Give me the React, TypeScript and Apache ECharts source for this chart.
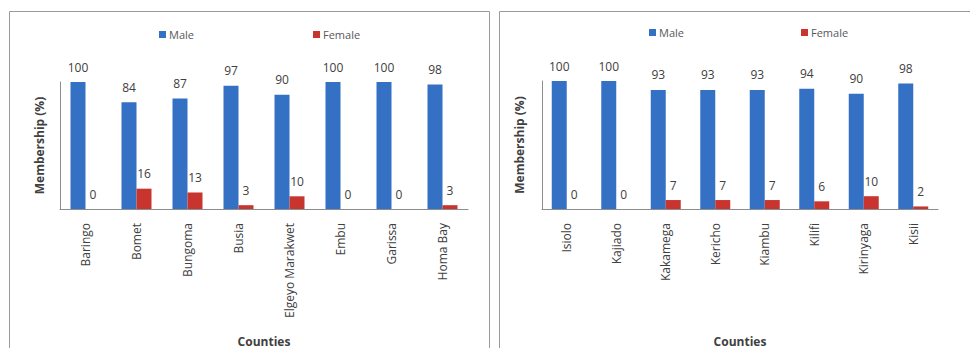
import React, { useEffect, useRef } from "react";
import * as echarts from "echarts";

// Membership (%) by county, split by sex
const countiesA = ["Baringo", "Bomet", "Bungoma", "Busia", "Elgeyo Marakwet", "Embu", "Garissa", "Homa Bay"];
const maleA = [100, 84, 87, 97, 90, 100, 100, 98];
const femaleA = [0, 16, 13, 3, 10, 0, 0, 3];

const countiesB = ["Isiolo", "Kajiado", "Kakamega", "Kericho", "Kiambu", "Kilifi", "Kirinyaga", "Kisii"];
const maleB = [100, 100, 93, 93, 93, 94, 90, 98];
const femaleB = [0, 0, 7, 7, 7, 6, 10, 2];

const MALE_COLOR = "#3470c4";
const FEMALE_COLOR = "#c8352e";
const TEXT = "#404040";
const FONT = "Open Sans";

function barSeries(name: string, data: number[], color: string, idx: number) {
  return {
    type: "bar",
    name,
    xAxisIndex: idx,
    yAxisIndex: idx,
    data,
    barWidth: 15,
    barGap: "0%",
    itemStyle: { color },
    label: {
      show: true,
      position: "top",
      distance: 9,
      color: TEXT,
      fontSize: 12,
      fontFamily: FONT,
    },
  };
}

function legendItem(name: string, left: number, top: number) {
  return {
    data: [name],
    left,
    top,
    itemWidth: 7,
    itemHeight: 7,
    icon: "rect",
    selectedMode: false,
    textStyle: { color: "#595959", fontSize: 11, fontFamily: FONT, padding: [0, 0, 0, -2] },
  };
}

function xAxis(data: string[], gridIndex: number) {
  return {
    type: "category",
    gridIndex,
    data,
    name: "Counties",
    nameLocation: "middle",
    nameGap: 126,
    nameTextStyle: { fontWeight: "bold", fontSize: 12, color: TEXT, fontFamily: FONT },
    axisLine: { lineStyle: { color: "#8c8c8c" } },
    axisTick: { show: false },
    axisLabel: { rotate: 90, margin: 14, fontSize: 12, color: TEXT, fontFamily: FONT, interval: 0 },
  };
}

function yAxis(gridIndex: number, nameGap: number) {
  return {
    type: "value",
    gridIndex,
    min: 0,
    max: 100,
    name: "Membership (%)",
    nameLocation: "middle",
    nameGap,
    nameTextStyle: { fontWeight: "bold", fontSize: 12, color: TEXT, fontFamily: FONT },
    axisLine: { show: true, lineStyle: { color: "#8c8c8c" } },
    axisTick: { show: false },
    axisLabel: { show: false },
    splitLine: { show: false },
  };
}

export default function App() {
  const ref = useRef<HTMLDivElement>(null);

  useEffect(() => {
    if (!ref.current) return;
    const chart = echarts.init(ref.current, undefined, { renderer: "svg" });
    chart.setOption({
      animation: false,
      backgroundColor: "#ffffff",
      textStyle: { fontFamily: FONT },
      graphic: [
        { type: "rect", shape: { x: 9.5, y: 11.5, width: 480, height: 345 }, style: { fill: "none", stroke: "#9a9a9a", lineWidth: 1 } },
        { type: "rect", shape: { x: 499.5, y: 11.5, width: 480, height: 345 }, style: { fill: "none", stroke: "#9a9a9a", lineWidth: 1 } },
      ],
      legend: [
        legendItem("Male", 154, 24),
        legendItem("Female", 308, 24),
        legendItem("Male", 644, 22),
        legendItem("Female", 796, 22),
      ],
      grid: [
        { left: 60, top: 82, width: 408, height: 135 },
        { left: 542, top: 81, width: 396, height: 136 },
      ],
      xAxis: [xAxis(countiesA, 0), xAxis(countiesB, 1)],
      yAxis: [yAxis(0, 15), yAxis(1, 17)],
      series: [
        barSeries("Male", maleA, MALE_COLOR, 0),
        barSeries("Female", femaleA, FEMALE_COLOR, 0),
        barSeries("Male", maleB, MALE_COLOR, 1),
        barSeries("Female", femaleB, FEMALE_COLOR, 1),
      ],
    });
    return () => chart.dispose();
  }, []);

  return (
    <div
      ref={ref}
      style={{ position: "fixed", left: 0, top: 0, width: 970, height: 348 }}
    />
  );
}
